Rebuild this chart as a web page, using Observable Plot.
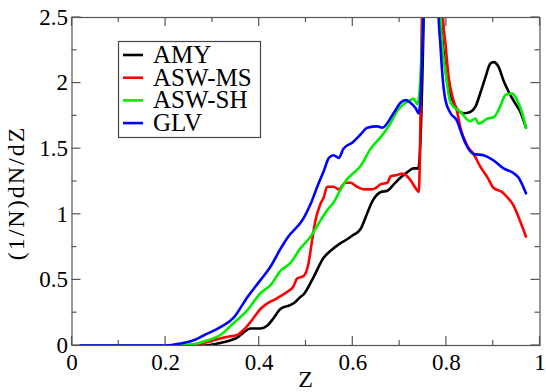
<!DOCTYPE html>
<html><head><meta charset="utf-8">
<script src="https://cdn.jsdelivr.net/npm/d3@7"></script>
<script src="https://cdn.jsdelivr.net/npm/@observablehq/plot@0.6"></script>
<style>
body{margin:0;background:#fff}
#chart{position:relative;width:546px;height:392px}
</style>
</head><body><div id="chart"></div>
<script>
// Series names and colours
const seriesNames = ["AMY", "ASW-MS", "ASW-SH", "GLV"];
const seriesColors = ["#000000", "#ff0000", "#00ee00", "#0000ff"];

// Tick values / labels
const xMajorTicks = [0, 0.2, 0.4, 0.6, 0.8, 1];
const xMajorLabels = ["0", "0.2", "0.4", "0.6", "0.8", "1"];
const xMinorTicks = [0.1, 0.3, 0.5, 0.7, 0.9];
const yMajorTicks = [0, 0.5, 1, 1.5, 2, 2.5];
const yMajorLabels = ["0", "0.5", "1", "1.5", "2", "2.5"];
const yMinorTicks = [0.25, 0.75, 1.25, 1.75, 2.25];

// Data: [Z, (1/N)dN/dZ]
const amy = [[0.018,0],[0.2,0],[0.28,0.0],[0.317,0.02],[0.339,0.04],[0.353,0.06],[0.367,0.10],[0.381,0.13],[0.403,0.13],[0.417,0.15],[0.431,0.21],[0.446,0.28],[0.46,0.30],[0.473,0.32],[0.488,0.37],[0.495,0.39],[0.516,0.52],[0.538,0.67],[0.552,0.72],[0.574,0.78],[0.588,0.81],[0.60,0.84],[0.617,0.89],[0.631,1.01],[0.642,1.10],[0.66,1.17],[0.674,1.18],[0.688,1.23],[0.702,1.28],[0.716,1.32],[0.73,1.35],[0.740,1.35],[0.752,2.6],[0.765,6],[0.775,6],[0.788,2.55],[0.795,2.2],[0.802,2.0],[0.813,1.87],[0.823,1.80],[0.837,1.77],[0.851,1.78],[0.862,1.82],[0.873,1.93],[0.883,2.04],[0.894,2.15],[0.901,2.16],[0.912,2.12],[0.922,2.02],[0.935,1.92],[0.948,1.84],[0.958,1.78],[0.970,1.66]];
const aswMS = [[0.018,0],[0.22,0],[0.26,0.005],[0.281,0.02],[0.303,0.04],[0.324,0.06],[0.339,0.07],[0.353,0.08],[0.367,0.12],[0.388,0.21],[0.403,0.28],[0.417,0.32],[0.438,0.36],[0.46,0.41],[0.473,0.45],[0.481,0.51],[0.495,0.53],[0.505,0.62],[0.513,0.80],[0.52,0.95],[0.531,1.08],[0.538,1.13],[0.545,1.21],[0.559,1.21],[0.570,1.19],[0.584,1.24],[0.595,1.24],[0.609,1.21],[0.624,1.19],[0.638,1.19],[0.649,1.20],[0.66,1.23],[0.674,1.24],[0.681,1.29],[0.695,1.30],[0.706,1.31],[0.716,1.29],[0.727,1.24],[0.734,1.20],[0.741,1.17],[0.748,2.6],[0.765,6],[0.78,6],[0.792,2.55],[0.798,2.30],[0.805,2.04],[0.815,1.87],[0.823,1.78],[0.83,1.66],[0.845,1.52],[0.858,1.46],[0.873,1.36],[0.888,1.28],[0.901,1.20],[0.919,1.17],[0.93,1.13],[0.943,1.07],[0.954,0.98],[0.970,0.83]];
const aswSH = [[0.018,0],[0.2,0],[0.25,0.005],[0.29,0.04],[0.317,0.08],[0.345,0.17],[0.375,0.27],[0.403,0.40],[0.424,0.46],[0.446,0.57],[0.467,0.63],[0.488,0.74],[0.51,0.83],[0.527,0.93],[0.545,1.03],[0.559,1.09],[0.574,1.19],[0.588,1.27],[0.60,1.31],[0.617,1.37],[0.638,1.50],[0.66,1.59],[0.68,1.69],[0.695,1.79],[0.709,1.84],[0.723,1.87],[0.73,1.88],[0.738,1.84],[0.751,2.6],[0.765,6],[0.775,6],[0.787,2.55],[0.791,2.30],[0.800,2.04],[0.804,1.93],[0.809,1.85],[0.83,1.78],[0.851,1.71],[0.862,1.73],[0.869,1.69],[0.888,1.73],[0.901,1.74],[0.916,1.83],[0.926,1.91],[0.941,1.92],[0.951,1.87],[0.962,1.77],[0.970,1.66]];
const glv = [[0.018,0],[0.2,0],[0.232,0.015],[0.26,0.04],[0.281,0.076],[0.317,0.14],[0.345,0.21],[0.375,0.37],[0.403,0.50],[0.424,0.60],[0.446,0.74],[0.46,0.82],[0.495,0.97],[0.51,1.08],[0.524,1.21],[0.538,1.33],[0.549,1.43],[0.559,1.45],[0.570,1.43],[0.58,1.50],[0.60,1.55],[0.617,1.61],[0.631,1.66],[0.652,1.67],[0.663,1.66],[0.687,1.77],[0.702,1.85],[0.713,1.87],[0.723,1.85],[0.734,1.81],[0.741,1.77],[0.751,2.6],[0.765,6],[0.775,6],[0.783,2.55],[0.787,2.30],[0.792,2.04],[0.798,1.87],[0.809,1.77],[0.823,1.71],[0.830,1.64],[0.841,1.54],[0.858,1.46],[0.879,1.45],[0.901,1.41],[0.922,1.35],[0.941,1.32],[0.954,1.28],[0.970,1.16]];

const seriesData = [amy, aswMS, aswSH, glv];
const rows = seriesData.flatMap((arr, i) => arr.map(([z, v]) => ({series: seriesNames[i], z, v})));

const font = "'Liberation Serif', 'Times New Roman', serif";

const chart = Plot.plot({
  width: 546, height: 392,
  marginLeft: 71.5, marginRight: 6.5, marginTop: 17, marginBottom: 47,
  style: {fontFamily: font, background: "#fff", color: "#000", overflow: "visible"},
  x: {domain: [0, 1]},
  y: {domain: [0, 2.5]},
  color: {domain: seriesNames, range: seriesColors},
  marks: [
    Plot.axisX({ticks: xMajorTicks, tickSize: 0, tickPadding: 8, fontSize: 23, label: null,
      tickFormat: (d) => xMajorLabels[xMajorTicks.indexOf(d)]}),
    Plot.axisY({ticks: yMajorTicks, tickSize: 0, tickPadding: 4, fontSize: 23, label: null,
      tickFormat: (d) => yMajorLabels[yMajorTicks.indexOf(d)]}),
    Plot.line(rows, {x: "z", y: "v", z: "series", stroke: "series", strokeWidth: 2.6, clip: true, strokeLinejoin: "round", curve: "monotone-x"}),
    Plot.frame({stroke: "#555", strokeWidth: 1.2})
  ]
});
document.getElementById("chart").appendChild(chart);

// Inward ticks using the plot's scales
const sx = chart.scale("x"), sy = chart.scale("y");
const svg = d3.select(chart);
const [x0, x1] = sx.range, [y0, y1] = sy.range; // y0 bottom, y1 top
const tg = svg.append("g").attr("stroke", "#555").attr("stroke-width", 1.2);
function xt(vals, len) {
  for (const v of vals) {
    const px = sx.apply(v);
    tg.append("line").attr("x1", px).attr("x2", px).attr("y1", y0).attr("y2", y0 - len);
    tg.append("line").attr("x1", px).attr("x2", px).attr("y1", y1).attr("y2", y1 + len);
  }
}
function yt(vals, len) {
  for (const v of vals) {
    const py = sy.apply(v);
    tg.append("line").attr("y1", py).attr("y2", py).attr("x1", x0).attr("x2", x0 + len);
    tg.append("line").attr("y1", py).attr("y2", py).attr("x1", x1).attr("x2", x1 - len);
  }
}
xt(xMajorTicks, 9); xt(xMinorTicks, 5);
yt(yMajorTicks, 9); yt(yMinorTicks, 5);

// Axis labels
svg.append("text").attr("x", (x0 + x1) / 2).attr("y", 387)
  .attr("text-anchor", "middle").attr("font-family", font).attr("font-size", 24).text("Z");
svg.append("text").attr("transform", `translate(24,${(y0 + y1) / 2 + 12}) rotate(-90)`)
  .attr("text-anchor", "middle").attr("font-family", font).attr("font-size", 24)
  .attr("letter-spacing", 2).text("(1/N)dN/dZ");

// Legend
const lg = svg.append("g").attr("text-anchor", "start");
lg.append("rect").attr("x", 118.5).attr("y", 41.5).attr("width", 142).attr("height", 96)
  .attr("fill", "#fff").attr("stroke", "#444").attr("stroke-width", 1.2);
seriesNames.forEach((name, i) => {
  const cy = 55 + i * 22.7;
  lg.append("line").attr("x1", 123).attr("x2", 143).attr("y1", cy).attr("y2", cy)
    .attr("stroke", seriesColors[i]).attr("stroke-width", 2.6);
  lg.append("text").attr("x", 153).attr("y", cy + 8).attr("text-anchor", "start")
    .attr("font-family", font).attr("font-size", 25).attr("fill", "#000").text(name);
});
</script>
</body></html>
